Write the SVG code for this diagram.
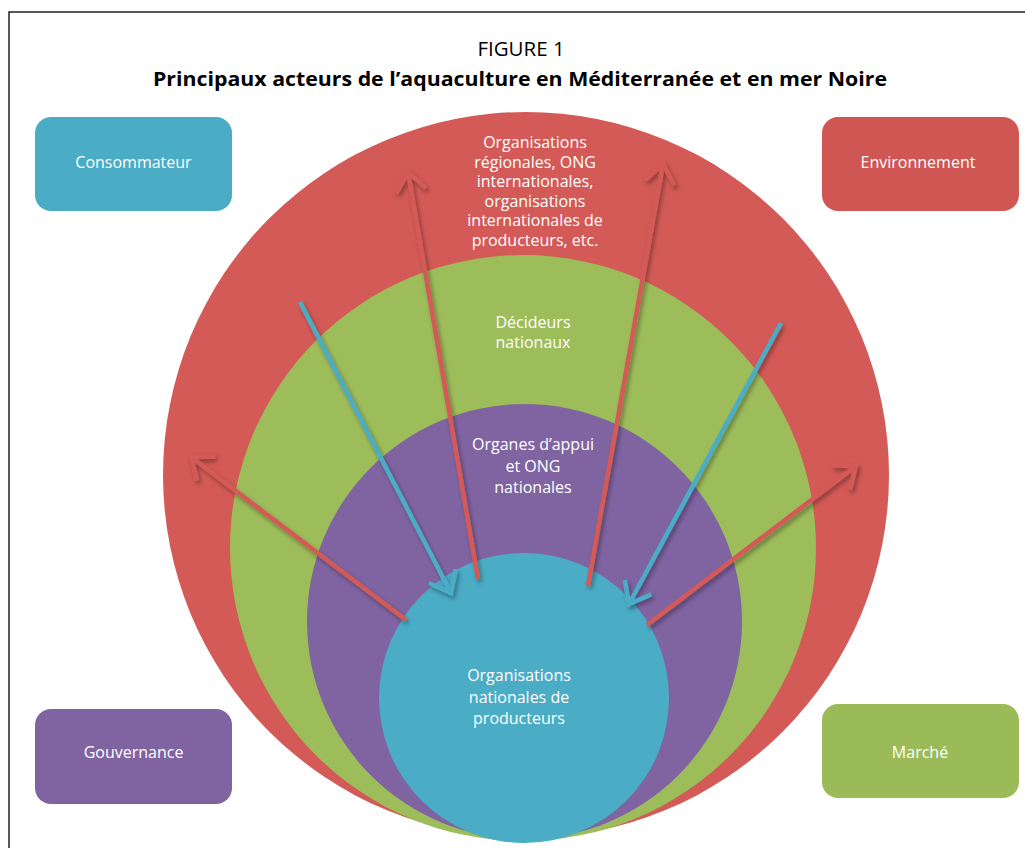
<svg xmlns="http://www.w3.org/2000/svg" width="1025" height="848" viewBox="0 0 1025 848">
<style>
text{font-family:"Open Sans","Liberation Sans",sans-serif;}
.w{fill:#ffffff;font-size:16px;text-anchor:middle;}
.t{fill:#000;text-anchor:middle;}
.ar{fill:none;stroke-width:4.5;stroke-linecap:butt;}
.red{stroke:#D35A56;}
.blue{stroke:#4BACC6;}
</style>
<defs>
<filter id="sh" x="-20%" y="-20%" width="140%" height="140%">
<feDropShadow dx="2" dy="3" stdDeviation="2" flood-color="#000" flood-opacity="0.35"/>
</filter>
<marker id="mr" markerUnits="userSpaceOnUse" viewBox="-26 -20 30 40" refX="0" refY="0" markerWidth="30" markerHeight="40" orient="auto">
<path d="M-19,-15 L0,0 L-19,15" fill="none" stroke="#D35A56" stroke-width="4.5"/>
</marker>
<marker id="mb" markerUnits="userSpaceOnUse" viewBox="-26 -20 30 40" refX="0" refY="0" markerWidth="30" markerHeight="40" orient="auto">
<path d="M-19,-15 L0,0 L-19,15" fill="none" stroke="#4BACC6" stroke-width="4.5"/>
</marker>
</defs>
<rect x="0" y="0" width="1025" height="848" fill="#fff"/>
<path d="M9,848 L9,12 L1025,12" fill="none" stroke="#222" stroke-width="1.5"/>
<text class="t" x="521" y="56" font-size="20.5">FIGURE 1</text>
<text class="t" x="520" y="86" font-size="20" font-weight="bold" textLength="734" lengthAdjust="spacingAndGlyphs">Principaux acteurs de l’aquaculture en Méditerranée et en mer Noire</text>

<g id="ring-international">
<circle cx="526" cy="475" r="363" fill="#D35A56"/>
<text class="w" x="535" y="148">Organisations</text>
<text class="w" x="535" y="167.5">régionales, ONG</text>
<text class="w" x="535" y="187">internationales,</text>
<text class="w" x="535" y="206.5">organisations</text>
<text class="w" x="535" y="226">internationales de</text>
<text class="w" x="535" y="245.5">producteurs, etc.</text>
</g>
<g id="ring-decideurs">
<circle cx="523" cy="548" r="293" fill="#9DBC5A"/>
<text class="w" x="533" y="328">Décideurs</text>
<text class="w" x="533" y="348">nationaux</text>
</g>
<g id="ring-organes">
<circle cx="524.5" cy="621.5" r="217.5" fill="#8064A2"/>
<text class="w" x="533" y="450">Organes d’appui</text>
<text class="w" x="533" y="471.5">et ONG</text>
<text class="w" x="533" y="493">nationales</text>
</g>
<g id="ring-producteurs">
<circle cx="524" cy="698" r="145" fill="#4AACC5"/>
<text class="w" x="519" y="681">Organisations</text>
<text class="w" x="519" y="702.5">nationales de</text>
<text class="w" x="519" y="724">producteurs</text>
</g>

<g id="box-consommateur">
<rect x="35" y="117" width="197" height="94" rx="16" fill="#4BACC6"/>
<text class="w" x="133.5" y="168">Consommateur</text>
</g>
<g id="box-environnement">
<rect x="822" y="117" width="197" height="94" rx="16" fill="#D05654"/>
<text class="w" x="918" y="168">Environnement</text>
</g>
<g id="box-gouvernance">
<rect x="35" y="709" width="197" height="95" rx="16" fill="#8064A2"/>
<text class="w" x="133.5" y="758">Gouvernance</text>
</g>
<g id="box-marche">
<rect x="822" y="704" width="197" height="94" rx="16" fill="#9BBB59"/>
<text class="w" x="920" y="758">Marché</text>
</g>

<g id="connectors" filter="url(#sh)">
<path class="ar red" d="M478,579 L408,172" marker-end="url(#mr)"/>
<path class="ar red" d="M588,586 L663,164" marker-end="url(#mr)"/>
<path class="ar red" d="M406,620 L191,457" marker-end="url(#mr)"/>
<path class="ar red" d="M647,625 L856,466" marker-end="url(#mr)"/>
<path class="ar blue" d="M300,302 L451,593" marker-end="url(#mb)"/>
<path class="ar blue" d="M781,323 L629,604" marker-end="url(#mb)"/>
</g>
</svg>
